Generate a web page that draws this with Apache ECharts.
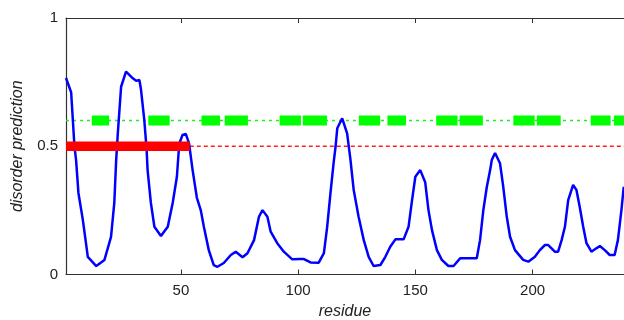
<!DOCTYPE html>
<html><head><meta charset="utf-8">
<script src="https://cdn.jsdelivr.net/npm/echarts@6/dist/echarts.min.js"></script>
<style>html,body{margin:0;padding:0;background:#fff}#c{width:624px;height:320px}</style>
</head><body><div id="c"></div>
<script>
// residue positions and disorder prediction values
const residues = [1,3.2,4.6,5.3,6.3,8.2,10.3,13.9,17.4,20.2,21.6,22.4,23.1,24.5,26.6,27.3,29.5,30.9,32.3,33.0,34.4,35.4,35.8,37.2,38.7,41.5,44.4,46.5,48.3,49.3,50.7,52.1,53.5,55.0,56.8,58.5,59.8,61.9,64.0,65.6,68.3,71.3,73.4,76.3,78.4,81.2,83.3,84.8,86.9,88.3,91.1,93.9,97.5,101.0,102.5,105.3,108.8,111.0,112.4,113.8,115.2,116.0,116.7,118.8,120.9,122.3,123.7,125.8,128.0,130.1,132.2,135.1,137.2,139.3,141.5,145.0,147.1,148.6,150.0,152.1,154.2,155.6,157.1,159.2,161.3,164.1,166.3,169.1,176.2,177.6,179.0,180.5,181.9,182.6,184.0,186.1,187.5,189.0,190.4,192.5,196.0,198.2,201.0,203.1,205.3,206.7,208.1,209.5,210.9,212.4,213.8,215.2,217.3,218.7,220.1,221.6,223.0,225.1,227.2,228.7,230.8,232.9,235.0,236.4,237.9,238.9];
const disorder = [0.766,0.71,0.50,0.446,0.318,0.212,0.069,0.033,0.057,0.147,0.279,0.446,0.55,0.732,0.791,0.796,0.765,0.755,0.758,0.72,0.602,0.485,0.407,0.279,0.186,0.15,0.186,0.279,0.381,0.51,0.544,0.548,0.51,0.407,0.30,0.25,0.186,0.095,0.037,0.03,0.045,0.076,0.089,0.067,0.083,0.134,0.225,0.251,0.225,0.167,0.122,0.089,0.059,0.06,0.06,0.047,0.046,0.083,0.186,0.317,0.44,0.50,0.57,0.609,0.55,0.45,0.33,0.225,0.134,0.069,0.033,0.037,0.069,0.108,0.137,0.137,0.186,0.29,0.381,0.407,0.36,0.251,0.173,0.095,0.057,0.033,0.033,0.063,0.063,0.134,0.251,0.342,0.407,0.446,0.474,0.434,0.342,0.225,0.147,0.095,0.057,0.05,0.069,0.095,0.115,0.115,0.102,0.089,0.089,0.134,0.186,0.29,0.349,0.33,0.264,0.186,0.122,0.089,0.102,0.111,0.095,0.076,0.076,0.134,0.251,0.342];
const xTicks = [50,100,150,200];
const yTicks = [0,0.5,1];
const xRange = [1,239];
const threshold = 0.5;
const redBarRange = [1,53.8];
const greenLevel = 0.6;
const greenBlocks = [[12.0,19.4],[36.1,45.2],[58.8,66.7],[68.7,78.6],[92.1,101.2],[102.0,112.3],[125.9,135.0],[138.1,146.0],[158.9,168.0],[168.9,178.8],[191.8,200.9],[201.8,212.0],[224.8,233.3],[234.7,242]];

const chart = echarts.init(document.getElementById('c'), null, {renderer:'canvas'});
const font = '"Liberation Sans", Arial, sans-serif';
const axisCol = '#333';
function rectItem(h, color){
  return function(params, api){
    const s = api.coord([api.value(0), api.value(2)]);
    const e = api.coord([api.value(1), api.value(2)]);
    return {type:'rect', shape:{x:s[0], y:s[1]-h/2, width:e[0]-s[0], height:h}, style:{fill:color}};
  };
}
chart.setOption({
  animation:false,
  backgroundColor:'#fff',
  grid:{left:66,right:0,top:18,bottom:45.5,containLabel:false,outerBoundsMode:'none'},
  xAxis:[{
    type:'value', min:xRange[0], max:xRange[1],
    name:'residue', nameLocation:'middle', nameGap:27,
    nameTextStyle:{fontFamily:font,fontSize:16,fontStyle:'italic',color:'#222'},
    axisLine:{show:true,onZero:false,lineStyle:{color:axisCol,width:1.2}},
    axisTick:{show:true,inside:true,length:5,customValues:xTicks,lineStyle:{color:axisCol}},
    axisLabel:{customValues:xTicks,fontFamily:font,fontSize:15,color:'#222',margin:9},
    splitLine:{show:false}
  },{
    type:'value', min:xRange[0], max:xRange[1], position:'top',
    axisLine:{show:true,onZero:false,lineStyle:{color:axisCol,width:1.2}},
    axisTick:{show:true,inside:true,length:5,customValues:xTicks,lineStyle:{color:axisCol}},
    axisLabel:{show:false},
    splitLine:{show:false}
  }],
  yAxis:{
    type:'value', min:0, max:1,
    name:'disorder prediction', nameLocation:'middle', nameGap:40, nameRotate:90,
    nameTextStyle:{fontFamily:font,fontSize:16,fontStyle:'italic',color:'#222'},
    axisLine:{show:true,lineStyle:{color:axisCol,width:1.2}},
    axisTick:{show:true,inside:true,length:5,customValues:yTicks,lineStyle:{color:axisCol}},
    axisLabel:{customValues:yTicks,fontFamily:font,fontSize:15,color:'#222',margin:8},
    splitLine:{show:false}
  },
  series:[
    {type:'line', data:[[xRange[0],greenLevel],[xRange[1],greenLevel]], symbol:'none', z:1,
     lineStyle:{color:'#22ee22',width:1.5,type:[3,4]}},
    {type:'line', data:[[redBarRange[1],threshold],[xRange[1],threshold]], symbol:'none', z:1,
     lineStyle:{color:'#ff2222',width:1.3,type:[4,3]}},
    {type:'custom', renderItem:rectItem(10,'#00ff00'), clip:true, z:2,
     encode:{x:[0,1],y:2}, data:greenBlocks.map(b=>[b[0],b[1],greenLevel])},
    {type:'line', data:residues.map((r,i)=>[r,disorder[i]]), symbol:'none', z:3,
     lineStyle:{color:'#0000ff',width:2.5}},
    {type:'custom', renderItem:rectItem(9.5,'#ff0000'), clip:true, z:4,
     encode:{x:[0,1],y:2}, data:[[redBarRange[0],redBarRange[1],threshold]]}
  ]
});
</script></body></html>
